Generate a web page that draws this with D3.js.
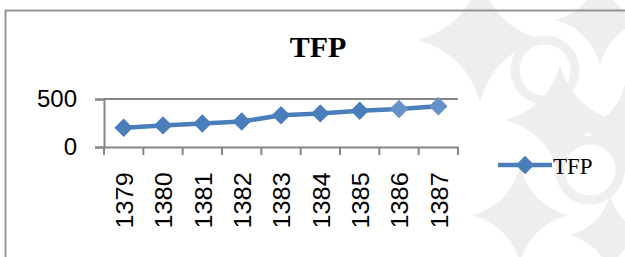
<!DOCTYPE html>
<html>
<head>
<meta charset="utf-8">
<script src="https://cdn.jsdelivr.net/npm/d3@7"></script>
<style>
  html, body { margin: 0; padding: 0; background: #fff; }
  svg { display: block; }
</style>
</head>
<body>
<svg id="chart" width="625" height="257"></svg>
<script>
const categories = ["1379", "1380", "1381", "1382", "1383", "1384", "1385", "1386", "1387"];
const tfpValues = [200, 225, 245, 265, 330, 350, 378, 395, 425];
const yTicks = [0, 500];
const seriesName = "TFP";
const chartTitle = "TFP";

(function () {
const svg = d3.select("#chart");

// faint decorative watermark (background)
function star(cx, cy, r, k) {
  const c = r * k;
  return `M${cx},${cy - r} Q${cx + c},${cy - c} ${cx + r},${cy} Q${cx + c},${cy + c} ${cx},${cy + r} ` +
         `Q${cx - c},${cy + c} ${cx - r},${cy} Q${cx - c},${cy - c} ${cx},${cy - r} Z`;
}
const wm = svg.append("g").attr("fill", "#eeeeee");
[[480, 40, 62], [600, 20, 45], [560, 120, 55], [625, 130, 45], [520, 215, 48], [610, 235, 40]]
  .forEach(s => wm.append("path").attr("d", star(s[0], s[1], s[2], 0.22)));
svg.append("g").attr("fill", "none").attr("stroke", "#efefef").attr("stroke-width", 9)
  .selectAll("circle").data([[545, 70, 30], [590, 170, 30]]).join("circle")
  .attr("cx", d => d[0]).attr("cy", d => d[1]).attr("r", d => d[2]);

// frame
svg.append("line").attr("x1", 5).attr("x2", 625).attr("y1", 10.5).attr("y2", 10.5)
  .attr("stroke", "#959595").attr("stroke-width", 2);
svg.append("line").attr("x1", 5.5).attr("x2", 5.5).attr("y1", 10).attr("y2", 257)
  .attr("stroke", "#959595").attr("stroke-width", 2);

const pLeft = 104, pRight = 458, pTop = 99, pBottom = 147;

const x = d3.scaleBand().domain(categories).range([pLeft, pRight]).paddingInner(0).paddingOuter(0);
const y = d3.scaleLinear().domain([0, 500]).range([pBottom, pTop]);

// gridline
svg.append("g").selectAll("line").data(yTicks.filter(d => d > 0)).join("line")
  .attr("x1", pLeft).attr("x2", pRight)
  .attr("y1", d => y(d)).attr("y2", d => y(d))
  .attr("stroke", "#868686").attr("stroke-width", 2);

// y axis
const yAxis = d3.axisLeft(y).tickValues(yTicks).tickSize(9).tickPadding(18);
const gy = svg.append("g").attr("transform", `translate(${pLeft},0)`).call(yAxis);
gy.select(".domain").attr("stroke", "#868686").attr("stroke-width", 2);
gy.selectAll(".tick line").attr("stroke", "#868686").attr("stroke-width", 2);
gy.selectAll(".tick text").attr("font-family", "Liberation Sans, Arial, sans-serif")
  .attr("font-size", 24).attr("fill", "#000");

// x axis
const xAxis = d3.axisBottom(x).tickSize(0).tickSizeOuter(0);
const gx = svg.append("g").attr("transform", `translate(0,${pBottom})`).call(xAxis);
gx.select(".domain").attr("stroke", "#868686").attr("stroke-width", 2);
gx.selectAll(".tick text")
  .attr("font-family", "Liberation Sans, Arial, sans-serif")
  .attr("font-size", 23).attr("fill", "#000")
  .attr("text-anchor", "end")
  .attr("transform", "rotate(-90) scale(1.1,1)")
  .attr("x", -23).attr("y", 0).attr("dy", "0.4em");
// boundary ticks between categories
const bounds = categories.map(c => x(c)).concat([x(categories[categories.length - 1]) + x.bandwidth()]);
gx.append("g").selectAll("line").data(bounds).join("line")
  .attr("x1", d => d).attr("x2", d => d).attr("y1", 0).attr("y2", 8)
  .attr("stroke", "#868686").attr("stroke-width", 2);

// line series
const cx = d => x(d) + x.bandwidth() / 2;
const data = categories.map((c, i) => ({ c, v: tfpValues[i] }));
svg.append("path").datum(data)
  .attr("fill", "none").attr("stroke", "#4a7ebb").attr("stroke-width", 4.5)
  .attr("stroke-linejoin", "round")
  .attr("d", d3.line().x(d => cx(d.c)).y(d => y(d.v)));

const diamond = d3.symbol().type(d3.symbolSquare).size(170);
svg.append("g").selectAll("path").data(data).join("path")
  .attr("d", diamond())
  .attr("transform", d => `translate(${cx(d.c)},${y(d.v)}) rotate(45)`)
  .attr("fill", (d, i) => i >= 7 ? "#6592c8" : "#4a7ebb");

// title
svg.append("text").attr("x", 318).attr("y", 57).attr("text-anchor", "middle")
  .attr("font-family", "Liberation Serif, Times New Roman, serif")
  .attr("font-weight", "bold").attr("font-size", 30).attr("fill", "#000")
  .text(chartTitle);

// legend
const lg = svg.append("g");
lg.append("line").attr("x1", 498).attr("x2", 552).attr("y1", 165).attr("y2", 165)
  .attr("stroke", "#4a7ebb").attr("stroke-width", 4.5);
lg.append("path").attr("d", diamond()).attr("transform", "translate(525,165) rotate(45)")
  .attr("fill", "#4a7ebb");
lg.append("text").attr("x", 553).attr("y", 174)
  .attr("font-family", "Liberation Serif, Times New Roman, serif")
  .attr("font-size", 23).attr("fill", "#000").text(seriesName);
})();
</script>
</body>
</html>
